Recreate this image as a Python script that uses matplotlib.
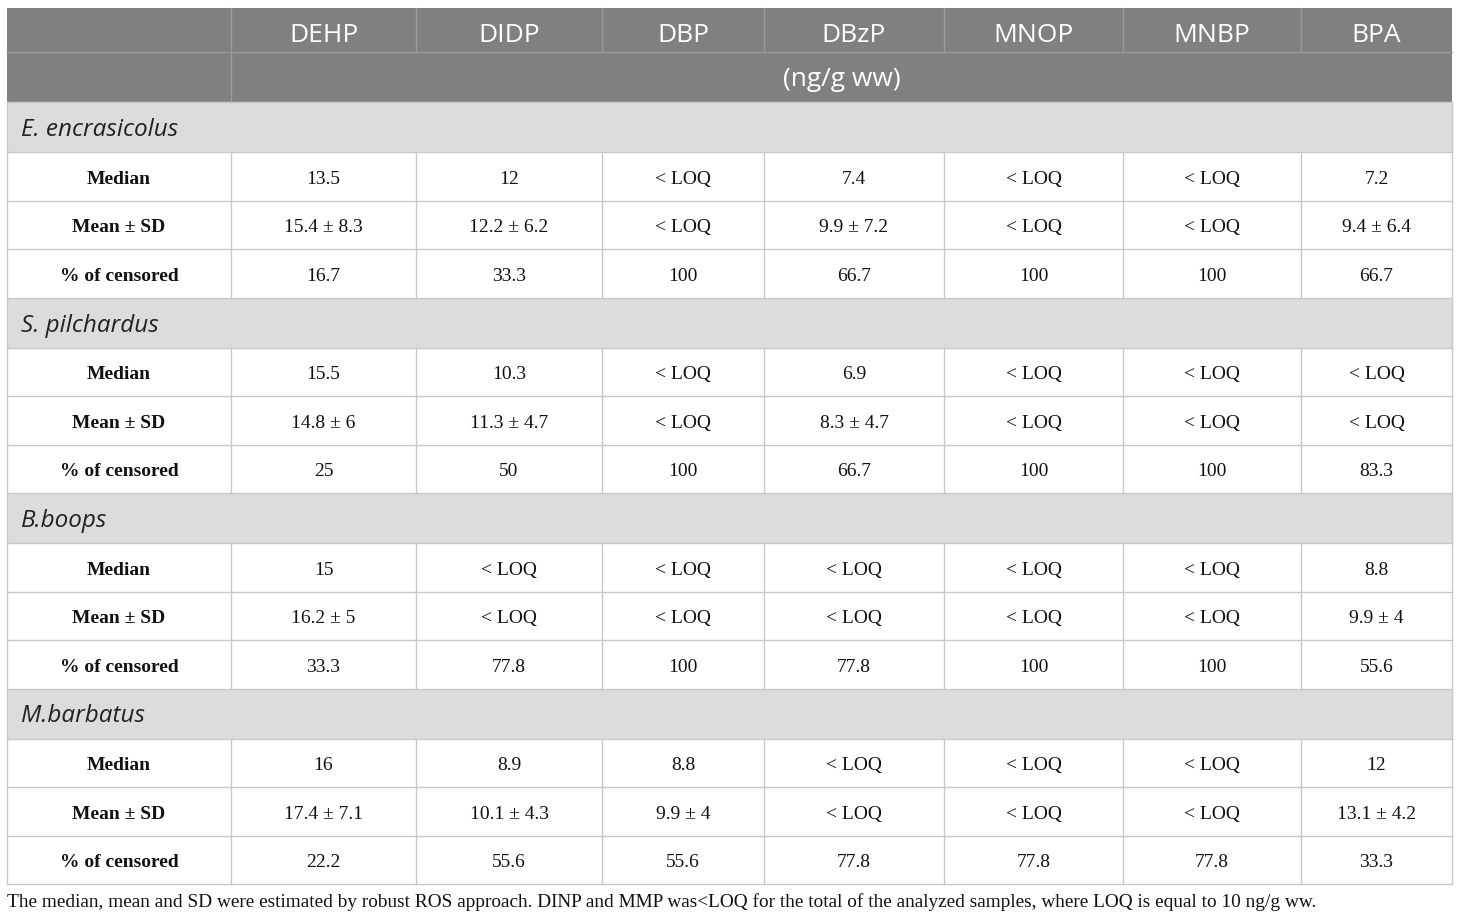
import matplotlib
matplotlib.use("Agg")
import matplotlib.pyplot as plt
from matplotlib.patches import Rectangle

compounds = ["DEHP", "DIDP", "DBP", "DBzP", "MNOP", "MNBP", "BPA"]
unit_label = "(ng/g ww)"
species = ["E. encrasicolus", "S. pilchardus", "B.boops", "M.barbatus"]
stat_labels = ["Median", "Mean ± SD", "% of censored"]

median = [
    ["13.5", "12", "< LOQ", "7.4", "< LOQ", "< LOQ", "7.2"],
    ["15.5", "10.3", "< LOQ", "6.9", "< LOQ", "< LOQ", "< LOQ"],
    ["15", "< LOQ", "< LOQ", "< LOQ", "< LOQ", "< LOQ", "8.8"],
    ["16", "8.9", "8.8", "< LOQ", "< LOQ", "< LOQ", "12"],
]
mean_sd = [
    ["15.4 ± 8.3", "12.2 ± 6.2", "< LOQ", "9.9 ± 7.2", "< LOQ", "< LOQ", "9.4 ± 6.4"],
    ["14.8 ± 6", "11.3 ± 4.7", "< LOQ", "8.3 ± 4.7", "< LOQ", "< LOQ", "< LOQ"],
    ["16.2 ± 5", "< LOQ", "< LOQ", "< LOQ", "< LOQ", "< LOQ", "9.9 ± 4"],
    ["17.4 ± 7.1", "10.1 ± 4.3", "9.9 ± 4", "< LOQ", "< LOQ", "< LOQ", "13.1 ± 4.2"],
]
censored = [
    ["16.7", "33.3", "100", "66.7", "100", "100", "66.7"],
    ["25", "50", "100", "66.7", "100", "100", "83.3"],
    ["33.3", "77.8", "100", "77.8", "100", "100", "55.6"],
    ["22.2", "55.6", "55.6", "77.8", "77.8", "77.8", "33.3"],
]
footnote = ("The median, mean and SD were estimated by robust ROS approach. DINP and MMP "
            "was<LOQ for the total of the analyzed samples, where LOQ is equal to 10 ng/g ww.")

# layout (pixels)
col_x = [7, 231, 416, 602, 764, 944, 1123, 1301, 1452]
top = 8
hdr_h = [44, 50]
sec_h = 50
row_h = 48.5

HDR_BG = "#808080"
SEC_BG = "#dcdcdc"
GRID = "#c8c8c8"
SANS = ["Open Sans", "DejaVu Sans"]
SERIF = ["Liberation Serif", "DejaVu Serif"]

fig = plt.figure(figsize=(14.6, 9.19), dpi=100)
ax = fig.add_axes([0, 0, 1, 1])
ax.set_xlim(0, 1460)
ax.set_ylim(919, 0)
ax.axis("off")

left, right = col_x[0], col_x[-1]

# header block
y0 = top
y1 = y0 + hdr_h[0]
y2 = y1 + hdr_h[1]
ax.add_patch(Rectangle((left, y0), right - left, y2 - y0, facecolor=HDR_BG, edgecolor="none"))
for i, name in enumerate(compounds):
    cx = (col_x[i + 1] + col_x[i + 2]) / 2
    ax.text(cx, (y0 + y1) / 2 + 5, name, ha="center", va="center", color="white",
            fontsize=19, family=SANS)
ax.text((col_x[1] + right) / 2, (y1 + y2) / 2 + 3, unit_label, ha="center", va="center",
        color="white", fontsize=19, family=SANS)
hl = "#9a9a9a"
for x in col_x[2:-1]:
    ax.plot([x, x], [y0, y1], color=hl, lw=1)
ax.plot([col_x[1], col_x[1]], [y0, y2], color=hl, lw=1)
ax.plot([left, right], [y1, y1], color=hl, lw=1)

y = y2
for s, sp in enumerate(species):
    ax.add_patch(Rectangle((left, y), right - left, sec_h, facecolor=SEC_BG, edgecolor="none"))
    ax.text(left + 14, y + sec_h / 2 + 3, sp, ha="left", va="center", style="italic",
            fontsize=17.5, family=SANS, color="#222222")
    ax.plot([left, right], [y, y], color=GRID, lw=1)
    y += sec_h
    rows = [median[s], mean_sd[s], censored[s]]
    for r, lab in enumerate(stat_labels):
        ax.plot([left, right], [y, y], color=GRID, lw=1)
        cy = y + row_h / 2 + 3
        ax.text((col_x[0] + col_x[1]) / 2, cy, lab, ha="center", va="center",
                fontweight="bold", fontsize=14, family=SERIF, color="#111111")
        for c, val in enumerate(rows[r]):
            ax.text((col_x[c + 1] + col_x[c + 2]) / 2, cy, val, ha="center", va="center",
                    fontsize=14, family=SERIF, color="#111111")
        for x in col_x[1:-1]:
            ax.plot([x, x], [y, y + row_h], color=GRID, lw=1)
        y += row_h
ax.plot([left, right], [y, y], color=GRID, lw=1)
# outer borders
ax.plot([left, left], [y2, y], color=GRID, lw=1)
ax.plot([right, right], [y2, y], color=GRID, lw=1)

ax.text(left, y + 18, footnote, ha="left", va="center", fontsize=13.9, family=SERIF,
        color="#111111")

fig.savefig("out.png", dpi=100)
